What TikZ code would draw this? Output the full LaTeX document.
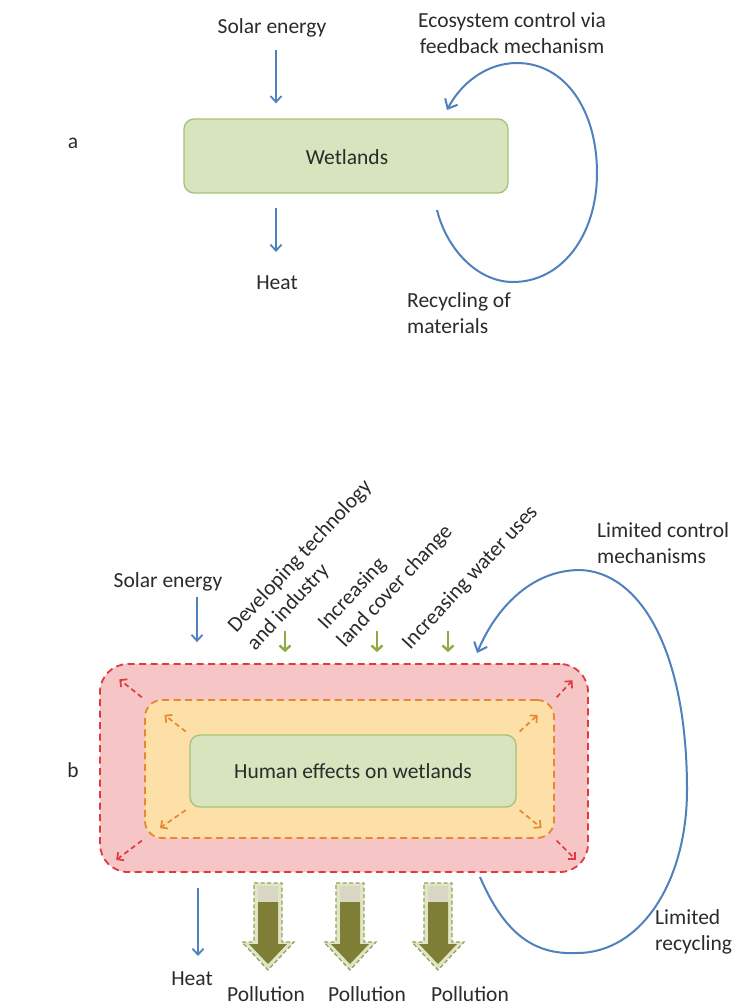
\documentclass[tikz,border=0pt]{standalone}
\usepackage{fontspec}
\setmainfont{Carlito}
\usetikzlibrary{arrows.meta,calc}

\definecolor{txt}{HTML}{2B2B2B}
\definecolor{flowblue}{HTML}{4F81BD}
\definecolor{boxgreen}{HTML}{D7E4BD}
\definecolor{boxedge}{HTML}{A6C27A}
\definecolor{ringred}{HTML}{F6C5C6}
\definecolor{ringrededge}{HTML}{E0393E}
\definecolor{ringorange}{HTML}{FCE0A8}
\definecolor{ringorangeedge}{HTML}{E8872F}
\definecolor{drivergreen}{HTML}{8DAA45}
\definecolor{olivedark}{HTML}{7E7E36}
\definecolor{olivelight}{HTML}{E1E7C6}
\definecolor{olivetop}{HTML}{D9D6C4}
\definecolor{oliveedge}{HTML}{93A25A}

\tikzset{
  pollution/.pic={
    % light dashed outline of the block arrow
    \path[fill=olivelight, draw=oliveedge, line width=1.3pt, dash pattern=on 4pt off 2.5pt]
      (-14,0) -- (14,0) -- (14,59) -- (26,59) -- (0,87) -- (-26,59) -- (-14,59) -- cycle;
    % faded top of the shaft
    \fill[olivetop] (-10,3) rectangle (10,19);
    % dark body of the arrow
    \fill[olivedark] (-10,19) -- (10,19) -- (10,61) -- (19,61) -- (0,81) -- (-19,61) -- (-10,61) -- cycle;
  }
}

\begin{document}
\begin{tikzpicture}[x=1pt,y=-1pt,
  every node/.style={text=txt, inner sep=0pt},
  font=\fontsize{21.5}{26}\selectfont,
  lbl/.style={align=left},
  flow/.style={draw=flowblue, line width=1.8pt, -{Straight Barb[length=6pt,width=11pt]}},
  loopline/.style={draw=flowblue, line width=2pt, -{Straight Barb[length=8pt,width=14pt]}},
  driver/.style={draw=drivergreen, line width=2.4pt, -{Straight Barb[length=5pt,width=11pt]}},
  wetbox/.style={draw=boxedge, fill=boxgreen, line width=1.3pt, rounded corners=10pt},
  ringouter/.style={draw=ringrededge, fill=ringred, line width=1.8pt,
    dash pattern=on 7pt off 4.5pt, rounded corners=28pt},
  ringmiddle/.style={draw=ringorangeedge, fill=ringorange, line width=1.8pt,
    dash pattern=on 7pt off 4.5pt, rounded corners=17pt},
  redspread/.style={draw=ringrededge, line width=1.7pt, dash pattern=on 5pt off 3.5pt,
    -{Straight Barb[length=5pt,width=10pt]}},
  orangespread/.style={draw=ringorangeedge, line width=1.7pt, dash pattern=on 5pt off 3.5pt,
    -{Straight Barb[length=5pt,width=10pt]}},
]
\fill[white] (0,0) rectangle (733,1004);
\useasboundingbox (0,0) rectangle (733,1004);

% ---------------- panel a ----------------
\node (labA) at (73,143) {a};

\node[wetbox, minimum width=324pt, minimum height=74pt] (wet) at (346,156) {};
\node (wetText) at (347,157) {Wetlands};

\node[anchor=base] (solarA) at (272,33) {Solar energy};
\coordinate (solarAtop) at (276,50);
\draw[flow, shorten >=15pt] (solarAtop) -- (solarAtop |- wet.north);

\coordinate (heatAtop) at (276,208);
\node[anchor=base] (heatA) at (277,289) {Heat};
\draw[flow] (heatAtop) -- ($(heatA.north)+(-1,-23)$);

% multi-line labels: the base anchor sits on the last line
\node[align=center, anchor=base] (ctrlA) at (512,53) {Ecosystem control via\\feedback mechanism};
\node[lbl, anchor=base west] (recA) at (407,333) {Recycling of\\materials};

\coordinate (loopAout) at (437,210);
\coordinate (loopAin) at (447,110);
\draw[loopline] (loopAout)
  .. controls (447,250) and (478,282) .. (513,282)
  .. controls (562,282) and (597,235) .. (597,173)
  .. controls (597,110) and (565,63) .. (517,63)
  .. controls (485,63) and (460,85) .. (loopAin);

% ---------------- panel b ----------------
\node (labB) at (73,770) {b};

\node[ringouter, minimum width=488pt, minimum height=208pt] (ringOut) at (344,768) {};
\node[ringmiddle, minimum width=409pt, minimum height=138pt] (ringMid) at (349.5,769) {};
\node[wetbox, minimum width=326pt, minimum height=72pt] (core) at (353,771) {};
\node (coreText) at (353,771) {Human effects on wetlands};

% spreading effects: core -> middle ring
\draw[orangespread] ($(core.north west)!0.08!(ringMid.north west)$) -- ($(core.north west)!0.55!(ringMid.north west)$);
\draw[orangespread] ($(core.south west)!0.08!(ringMid.south west)$) -- ($(core.south west)!0.65!(ringMid.south west)$);
\draw[orangespread] ($(core.north east)!0.08!(ringMid.north east)$) -- ($(core.north east)!0.55!(ringMid.north east)$);
\draw[orangespread] ($(core.south east)!0.08!(ringMid.south east)$) -- ($(core.south east)!0.65!(ringMid.south east)$);
% spreading effects: middle ring -> outer ring
\draw[redspread] ($(ringMid.north west)!0.05!(ringOut.north west)$) -- ($(ringMid.north west)!0.55!(ringOut.north west)$);
\draw[redspread] ($(ringMid.south west)!0.05!(ringOut.south west)$) -- ($(ringMid.south west)!0.62!(ringOut.south west)$);
\draw[redspread] ($(ringMid.north east)!0.05!(ringOut.north east)$) -- ($(ringMid.north east)!0.52!(ringOut.north east)$);
\draw[redspread] ($(ringMid.south east)!0.05!(ringOut.south east)$) -- ($(ringMid.south east)!0.62!(ringOut.south east)$);

% incoming solar energy
\node[anchor=base] (solarB) at (168,587) {Solar energy};
\coordinate (solarBtop) at (197,597);
\draw[flow, shorten >=21pt] (solarBtop) -- (solarBtop |- ringOut.north);

% human drivers
\node[lbl, rotate=47, anchor=south west] (drvTech) at (258,654) {Developing technology\\and industry};
\node[lbl, rotate=47, anchor=south west] (drvLand) at (348,651) {Increasing\\land cover change};
\node[lbl, rotate=47, anchor=south west] (drvWater) at (413,653) {Increasing water uses};
\coordinate (drvTechEnd) at (285,631);
\coordinate (drvLandEnd) at (377,631);
\coordinate (drvWaterEnd) at (448,631);
\draw[driver, shorten >=11pt] (drvTechEnd) -- (drvTechEnd |- ringOut.north);
\draw[driver, shorten >=11pt] (drvLandEnd) -- (drvLandEnd |- ringOut.north);
\draw[driver, shorten >=11pt] (drvWaterEnd) -- (drvWaterEnd |- ringOut.north);

% outgoing heat
\node[anchor=base] (heatB) at (192,985) {Heat};
\coordinate (heatBtop) at (198,888);
\draw[flow] (heatBtop) -- ($(heatB.north)+(6,-15)$);

% pollution outputs
\pic (pol1) at (268,883) {pollution};
\pic (pol2) at (350,883) {pollution};
\pic (pol3) at (438,883) {pollution};
\node[anchor=base] (polText1) at (266,1001) {Pollution};
\node[anchor=base] (polText2) at (367,1001) {Pollution};
\node[anchor=base] (polText3) at (470,1001) {Pollution};

% weak feedback loop
\node[lbl, anchor=base west] (ctrlB) at (597,563) {Limited control\\mechanisms};
\node[lbl, anchor=base west] (recB) at (655,950) {Limited\\recycling};
\coordinate (loopBout) at (480,877);
\coordinate (loopBin) at (477,653);
\draw[loopline] (loopBout)
  .. controls (505,935) and (535,955) .. (577,953)
  .. controls (642,953) and (687,880) .. (687,790)
  .. controls (687,650) and (640,572) .. (580,570)
  .. controls (530,570) and (495,610) .. (loopBin);
\end{tikzpicture}
\end{document}
